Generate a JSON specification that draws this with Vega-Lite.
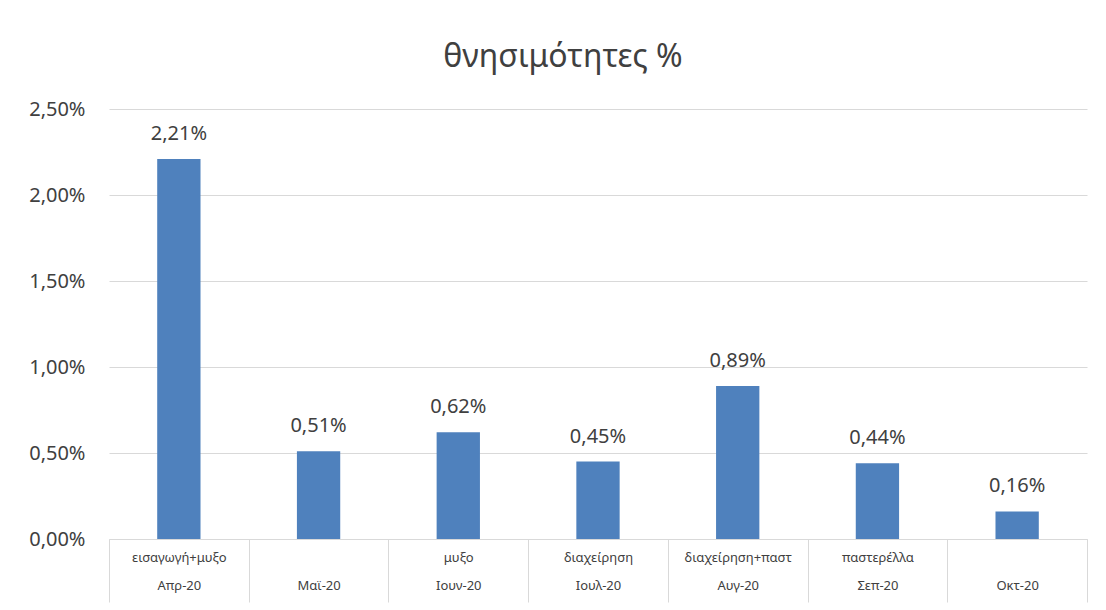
{
  "$schema": "https://vega.github.io/schema/vega-lite/v6.json",
  "autosize": {"type": "none"},
  "width": 978,
  "height": 430,
  "padding": {"left": 109, "top": 109, "right": 19, "bottom": 71},
  "background": "white",
  "title": {"text": "θνησιμότητες %", "fontSize": 32, "font": "Noto Sans", "fontWeight": "normal", "color": "#404040", "anchor": "middle", "offset": 25, "dx": -35},
  "data": {"values": [
    {"month": "Απρ-20", "note": "εισαγωγή+μυξο", "rate": 0.0221},
    {"month": "Μαϊ-20", "note": "", "rate": 0.0051},
    {"month": "Ιουν-20", "note": "μυξο", "rate": 0.0062},
    {"month": "Ιουλ-20", "note": "διαχείρηση", "rate": 0.0045},
    {"month": "Αυγ-20", "note": "διαχείρηση+παστ", "rate": 0.0089},
    {"month": "Σεπ-20", "note": "παστερέλλα", "rate": 0.0044},
    {"month": "Οκτ-20", "note": "", "rate": 0.0016}
  ]},
  "transform": [{"calculate": "datum.note + '|' + datum.month", "as": "cat"}],
  "encoding": {
    "x": {"field": "cat", "type": "nominal", "sort": null, "title": null,
      "scale": {"paddingInner": 0, "paddingOuter": 0},
      "axis": {"labelExpr": "split(datum.label, '|')", "labelAngle": 0, "tickBand": "extent", "tickSize": 63, "tickColor": "#d9d9d9", "domainColor": "#d9d9d9", "labelPadding": -51, "labelBaseline": "top", "labelLineHeight": 28, "labelFontSize": 13, "labelFont": "Noto Sans", "labelColor": "#404040", "labelOverlap": false, "labelLimit": 0, "grid": false}},
    "y": {"field": "rate", "type": "quantitative", "title": null,
      "scale": {"domain": [0, 0.025], "nice": false},
      "axis": {"values": [0, 0.005, 0.01, 0.015, 0.02, 0.025], "format": ".2%", "domain": false, "ticks": false, "grid": true, "gridColor": "#d9d9d9", "labelFontSize": 20, "labelFont": "Noto Sans", "labelColor": "#404040", "labelPadding": 24}}
  },
  "layer": [
    {"mark": {"type": "bar", "color": "#4f81bd", "width": {"band": 0.31}}},
    {"mark": {"type": "text", "baseline": "bottom", "dy": -15, "fontSize": 20, "font": "Noto Sans", "color": "#404040"},
     "encoding": {"text": {"field": "rate", "type": "quantitative", "format": ".2%"}}}
  ],
  "config": {
    "locale": {"number": {"decimal": ",", "thousands": ".", "grouping": [3], "currency": ["", " €"]}},
    "view": {"stroke": null}
  }
}
